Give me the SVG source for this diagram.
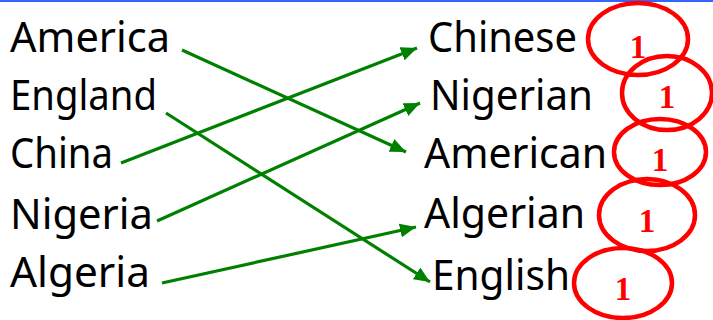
<svg xmlns="http://www.w3.org/2000/svg" width="713" height="320" viewBox="0 0 713 320">
<style>
.w{font-family:"Comic Sans MS","Noto Sans","DejaVu Sans",sans-serif;font-size:41px;fill:#000}
.c{fill:none;stroke:#ff0000;stroke-width:4.5}
.n{font-family:"Liberation Serif","Times New Roman",serif;font-size:33px;font-weight:bold;fill:#ff0000;text-anchor:middle}
.a{stroke:#008000;stroke-width:3.2;fill:none;marker-end:url(#ah)}
</style>
<defs>
<marker id="ah" markerUnits="userSpaceOnUse" markerWidth="18" markerHeight="14" refX="16" refY="7" orient="auto">
<path d="M0,0 L16,7 L0,14 Z" fill="#008000"/>
</marker>
</defs>
<rect x="0" y="0" width="713" height="2" fill="#3366ff"/>
<g id="left">
<g id="america"><text class="w" x="10" y="52" textLength="160" lengthAdjust="spacingAndGlyphs">America</text></g>
<g id="england"><text class="w" x="10" y="110" textLength="147" lengthAdjust="spacingAndGlyphs">England</text></g>
<g id="china"><text class="w" x="10" y="168" textLength="103" lengthAdjust="spacingAndGlyphs">China</text></g>
<g id="nigeria"><text class="w" x="10" y="229" textLength="143" lengthAdjust="spacingAndGlyphs">Nigeria</text></g>
<g id="algeria"><text class="w" x="10" y="287" textLength="140" lengthAdjust="spacingAndGlyphs">Algeria</text></g>
</g>
<g id="right">
<g id="chinese"><text class="w" x="428" y="52" textLength="149" lengthAdjust="spacingAndGlyphs">Chinese</text></g>
<g id="nigerian"><text class="w" x="430" y="110" textLength="163" lengthAdjust="spacingAndGlyphs">Nigerian</text></g>
<g id="american"><text class="w" x="424" y="168" textLength="183" lengthAdjust="spacingAndGlyphs">American</text></g>
<g id="algerian"><text class="w" x="424" y="228" textLength="161" lengthAdjust="spacingAndGlyphs">Algerian</text></g>
<g id="english"><text class="w" x="432" y="290" textLength="138" lengthAdjust="spacingAndGlyphs">English</text></g>
</g>
<g id="connectors">
<line class="a" x1="182" y1="50" x2="406" y2="152"/>
<line class="a" x1="166" y1="113" x2="430" y2="282"/>
<line class="a" x1="121" y1="163" x2="417" y2="48"/>
<line class="a" x1="157" y1="221" x2="420" y2="103"/>
<line class="a" x1="162" y1="283" x2="416" y2="227"/>
</g>
<g id="score1"><ellipse class="c" cx="638" cy="39" rx="50" ry="36"/><text class="n" x="638" y="58">1</text></g>
<g id="score2"><ellipse class="c" cx="667" cy="93" rx="45" ry="37"/><text class="n" x="667" y="108">1</text></g>
<g id="score3"><ellipse class="c" cx="660" cy="152" rx="46" ry="33"/><text class="n" x="660" y="171">1</text></g>
<g id="score4"><ellipse class="c" cx="647" cy="215" rx="48" ry="36"/><text class="n" x="647" y="232">1</text></g>
<g id="score5"><ellipse class="c" cx="623" cy="283" rx="49" ry="35"/><text class="n" x="623" y="300">1</text></g>
</svg>
